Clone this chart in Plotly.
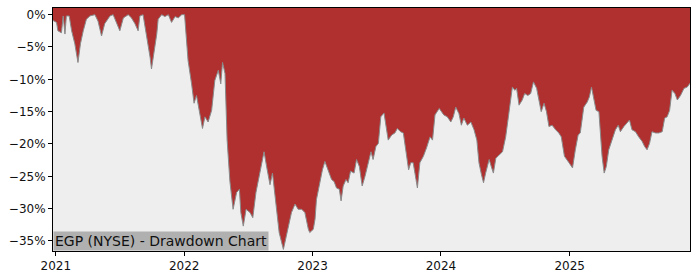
import plotly.graph_objects as go
import pandas as pd

dates = [
    "2020-12-24", "2021-01-03", "2021-01-07", "2021-01-17", "2021-01-22", "2021-01-27", "2021-01-31",
    "2021-02-08", "2021-02-15", "2021-02-24", "2021-03-05", "2021-03-12", "2021-03-20", "2021-03-29",
    "2021-04-08", "2021-04-22", "2021-05-01", "2021-05-11", "2021-05-20", "2021-06-04", "2021-06-13",
    "2021-06-23", "2021-07-02", "2021-07-12", "2021-07-26", "2021-08-04", "2021-08-14", "2021-08-23",
    "2021-08-28", "2021-09-06", "2021-09-16", "2021-09-26", "2021-09-30", "2021-10-07", "2021-10-15",
    "2021-10-19", "2021-10-29", "2021-11-07", "2021-11-17", "2021-11-26", "2021-12-06", "2021-12-15",
    "2021-12-25", "2022-01-02",
    "2022-01-06", "2022-01-12", "2022-01-22", "2022-01-29", "2022-02-05", "2022-02-13", "2022-02-22",
    "2022-03-01", "2022-03-10", "2022-03-20", "2022-03-29", "2022-04-08", "2022-04-15", "2022-04-20",
    "2022-04-27", "2022-05-03", "2022-05-11", "2022-05-20", "2022-05-30", "2022-06-07", "2022-06-11",
    "2022-06-18", "2022-06-26", "2022-07-07", "2022-07-15", "2022-07-24", "2022-08-04", "2022-08-16",
    "2022-08-25", "2022-09-02", "2022-09-09", "2022-09-19", "2022-09-28", "2022-10-10", "2022-10-17",
    "2022-10-24", "2022-11-02", "2022-11-12", "2022-11-21", "2022-12-01", "2022-12-10", "2022-12-20",
    "2022-12-24",
    "2023-01-03", "2023-01-08", "2023-01-12", "2023-01-22", "2023-01-29", "2023-02-05", "2023-02-14",
    "2023-02-24", "2023-03-03", "2023-03-10", "2023-03-18", "2023-03-23", "2023-03-29", "2023-04-06",
    "2023-04-12", "2023-04-19", "2023-04-29", "2023-05-06", "2023-05-14", "2023-05-22", "2023-05-30",
    "2023-06-08", "2023-06-16", "2023-06-22", "2023-06-30", "2023-07-07", "2023-07-14", "2023-07-23",
    "2023-07-29", "2023-08-04", "2023-08-14", "2023-08-23", "2023-08-30", "2023-09-08", "2023-09-16",
    "2023-09-24", "2023-10-01", "2023-10-07", "2023-10-14", "2023-10-22", "2023-10-26", "2023-11-02",
    "2023-11-12", "2023-11-21", "2023-12-01", "2023-12-08", "2023-12-15", "2023-12-27",
    "2024-01-09", "2024-01-19", "2024-01-29", "2024-02-05", "2024-02-12", "2024-02-21", "2024-02-28",
    "2024-03-06", "2024-03-16", "2024-03-26", "2024-04-04", "2024-04-12", "2024-04-18", "2024-04-25",
    "2024-05-01", "2024-05-07", "2024-05-17", "2024-05-23", "2024-05-29", "2024-06-05", "2024-06-14",
    "2024-06-24", "2024-07-03", "2024-07-13", "2024-07-17", "2024-07-22", "2024-07-29", "2024-08-03",
    "2024-08-10", "2024-08-19", "2024-08-26", "2024-09-04", "2024-09-12", "2024-09-20", "2024-09-29",
    "2024-10-06", "2024-10-12", "2024-10-20", "2024-10-27", "2024-11-03", "2024-11-12", "2024-11-22",
    "2024-12-01", "2024-12-08", "2024-12-17", "2024-12-30",
    "2025-01-09", "2025-01-17", "2025-01-25", "2025-01-31", "2025-02-10", "2025-02-20", "2025-02-26",
    "2025-03-04", "2025-03-10", "2025-03-17", "2025-03-25", "2025-03-29", "2025-04-03", "2025-04-09",
    "2025-04-15", "2025-04-22", "2025-05-02", "2025-05-11", "2025-05-19", "2025-05-25", "2025-06-04",
    "2025-06-13", "2025-06-20", "2025-06-27", "2025-07-07", "2025-07-16", "2025-07-26", "2025-08-02",
    "2025-08-09", "2025-08-16", "2025-08-23", "2025-09-02", "2025-09-11", "2025-09-21", "2025-09-28",
    "2025-10-05", "2025-10-12", "2025-10-19", "2025-10-27", "2025-11-03", "2025-11-12", "2025-11-22",
    "2025-12-01", "2025-12-09",
]

drawdown = [
    -0.9, -1.2, -2.5, -2.8, -0.2, -3.0, -0.2,
    -0.2, -2.5, -4.5, -7.4, -4.5, -2.5, -0.7,
    -0.2, 0.0, -1.0, -3.3, -1.4, -0.2, 0.0,
    -1.4, -2.5, -0.5, 0.0, -0.5, -1.4, -2.5,
    -0.2, 0.0, -3.0, -6.6, -8.4, -6.1, -3.0,
    -0.7, 0.0, -0.3, 0.0, -1.2, -0.3, -0.5,
    0.0, 0.0,
    -2.5, -7.1, -10.7, -13.7, -12.5, -14.8, -17.6,
    -15.8, -16.6, -14.8, -10.2, -8.6, -10.7, -7.4,
    -9.1, -19.4, -25.8, -30.1, -27.5, -27.0, -30.6,
    -32.7, -30.1, -30.6, -31.4, -27.5, -24.5, -21.2,
    -24.0, -26.3, -24.5, -29.1, -33.7, -36.3, -34.7,
    -32.7, -30.6, -29.3, -30.1, -30.1, -30.6, -33.2,
    -33.7,
    -33.2, -31.6, -28.6, -25.5, -24.0, -22.7, -24.0,
    -25.5, -25.8, -26.8, -27.0, -28.8, -26.5, -25.5,
    -26.0, -24.2, -24.5, -22.4, -23.5, -26.5, -25.0,
    -22.7, -21.2, -22.4, -20.4, -19.9, -15.8, -15.2,
    -17.3, -19.4, -18.6, -18.3, -17.6, -18.1, -18.3,
    -21.4, -24.0, -22.9, -22.9, -25.5, -26.8, -22.9,
    -21.9, -20.6, -18.9, -19.4, -15.5, -14.5,
    -15.5, -15.8, -16.6, -15.8, -14.3, -15.3, -17.1,
    -16.0, -17.1, -16.6, -17.8, -19.4, -22.9, -24.7,
    -26.0, -24.5, -22.4, -23.5, -24.5, -22.2, -21.7,
    -21.2, -18.9, -14.8, -12.7, -11.2, -11.7, -11.4,
    -14.0, -13.2, -12.2, -12.5, -12.2, -10.4, -11.4,
    -13.2, -15.0, -13.7, -15.0, -17.3, -17.1, -17.8,
    -18.3, -18.9, -21.9, -22.9,
    -23.7, -20.9, -18.6, -18.3, -14.3, -13.5, -12.7,
    -11.2, -13.0, -14.8, -15.0, -18.3, -21.9, -24.5,
    -23.5, -20.9, -19.4, -17.8, -17.1, -18.1, -17.3,
    -16.8, -16.3, -17.8, -18.1, -18.9, -19.6, -20.4,
    -20.9, -19.9, -18.1, -18.3, -18.3, -18.1, -16.0,
    -15.8, -14.8, -11.7, -12.2, -13.2, -12.5, -11.4,
    -11.2, -10.6,
]

y_ticks = [0, -5, -10, -15, -20, -25, -30, -35]
y_tick_labels = ["0%", "\u22125%", "\u221210%", "\u221215%", "\u221220%", "\u221225%", "\u221230%", "\u221235%"]
x_ticks = ["2021-01-01", "2022-01-01", "2023-01-01", "2024-01-01", "2025-01-01"]
x_tick_labels = ["2021", "2022", "2023", "2024", "2025"]
title_text = "EGP (NYSE) - Drawdown Chart"

y_top = 1.03
y_bottom = -36.55

x = pd.to_datetime(dates)

fig = go.Figure()
fig.add_trace(go.Scatter(
    x=x, y=[y_top] * len(x), mode="lines",
    line=dict(width=0, color="rgba(0,0,0,0)"), hoverinfo="skip", showlegend=False,
))
fig.add_trace(go.Scatter(
    x=x, y=drawdown, mode="lines", fill="tonexty",
    fillcolor="#B03030", line=dict(color="#8a8a8a", width=1),
    showlegend=False,
))

fig.add_annotation(
    xref="paper", yref="paper", x=0, y=0, xanchor="left", yanchor="bottom",
    text=title_text, showarrow=False, align="left",
    font=dict(family="DejaVu Sans", size=14, color="#111111"),
    bgcolor="#B0B0B0", borderpad=1, borderwidth=1, bordercolor="rgba(0,0,0,0)",
)

fig.update_layout(
    width=700, height=280,
    margin=dict(l=53, r=10, t=7, b=28),
    paper_bgcolor="white", plot_bgcolor="#EEEEEE",
    font=dict(family="DejaVu Sans", size=12, color="#111111"),
    showlegend=False,
)
fig.update_xaxes(
    range=[x.min(), x.max()], tickvals=pd.to_datetime(x_ticks), ticktext=x_tick_labels,
    showgrid=False, zeroline=False, showline=True, linecolor="black", linewidth=1, mirror=True,
    ticks="outside", ticklen=4, tickcolor="black",
)
fig.update_yaxes(
    range=[y_bottom, y_top], tickvals=y_ticks, ticktext=y_tick_labels,
    showgrid=False, zeroline=False, showline=True, linecolor="black", linewidth=1, mirror=True,
    ticks="outside", ticklen=4, tickcolor="black",
)

fig.write_html("out.html")
